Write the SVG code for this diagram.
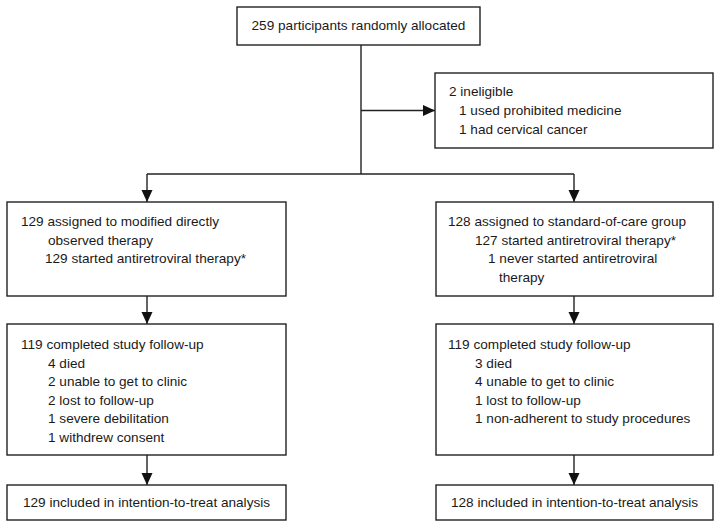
<svg xmlns="http://www.w3.org/2000/svg" width="721" height="528" viewBox="0 0 721 528">
<style>
.box{fill:#fff;stroke:#222;stroke-width:1.4}
.t{font-family:"Liberation Sans",Arial,sans-serif;font-size:13.6px;fill:#1a1a1a}
.c{text-anchor:middle}
.ln{fill:none;stroke:#222;stroke-width:1.4}
</style>
<defs>
<marker id="ah" markerUnits="userSpaceOnUse" markerWidth="12" markerHeight="12" refX="12" refY="6" orient="auto" viewBox="0 0 12 12">
<path d="M0,0.5 L12,6 L0,11.5 z" fill="#111"/>
</marker>
</defs>
<rect width="721" height="528" fill="#fff"/>
<g id="connectors">
<path class="ln" d="M361,45 V174"/>
<path class="ln" d="M361,110.5 H435" marker-end="url(#ah)"/>
<path class="ln" d="M147,174 H574"/>
<path class="ln" d="M147,174 V202" marker-end="url(#ah)"/>
<path class="ln" d="M574,174 V202" marker-end="url(#ah)"/>
<path class="ln" d="M147,296 V324" marker-end="url(#ah)"/>
<path class="ln" d="M574,296 V324" marker-end="url(#ah)"/>
<path class="ln" d="M147,455 V485" marker-end="url(#ah)"/>
<path class="ln" d="M574,455 V485" marker-end="url(#ah)"/>
</g>
<g id="n_allocated">
<rect class="box" x="237" y="7" width="243" height="38"/>
<text class="t c" x="358.5" y="30">259 participants randomly allocated</text>
</g>
<g id="n_ineligible">
<rect class="box" x="435" y="73" width="278" height="75"/>
<text class="t" x="449" y="96">2 ineligible</text>
<text class="t" x="459" y="115">1 used prohibited medicine</text>
<text class="t" x="459" y="134">1 had cervical cancer</text>
</g>
<g id="n_mdot">
<rect class="box" x="7" y="202" width="279" height="94"/>
<text class="t" x="21" y="226">129 assigned to modified directly</text>
<text class="t" x="48" y="244.5">observed therapy</text>
<text class="t" x="45" y="263">129 started antiretroviral therapy*</text>
</g>
<g id="n_soc">
<rect class="box" x="436" y="202" width="277" height="94"/>
<text class="t" x="448" y="226">128 assigned to standard-of-care group</text>
<text class="t" x="475" y="244.5">127 started antiretroviral therapy*</text>
<text class="t" x="488" y="263">1 never started antiretroviral</text>
<text class="t" x="499" y="281.5">therapy</text>
</g>
<g id="n_followup_left">
<rect class="box" x="7" y="324" width="279" height="131"/>
<text class="t" x="21" y="349">119 completed study follow-up</text>
<text class="t" x="48" y="367.5">4 died</text>
<text class="t" x="48" y="386">2 unable to get to clinic</text>
<text class="t" x="48" y="404.5">2 lost to follow-up</text>
<text class="t" x="48" y="423">1 severe debilitation</text>
<text class="t" x="48" y="441.5">1 withdrew consent</text>
</g>
<g id="n_followup_right">
<rect class="box" x="436" y="324" width="277" height="131"/>
<text class="t" x="448" y="349">119 completed study follow-up</text>
<text class="t" x="475" y="367.5">3 died</text>
<text class="t" x="475" y="386">4 unable to get to clinic</text>
<text class="t" x="475" y="404.5">1 lost to follow-up</text>
<text class="t" x="475" y="423">1 non-adherent to study procedures</text>
</g>
<g id="n_itt_left">
<rect class="box" x="7" y="485" width="279" height="35"/>
<text class="t c" x="146.5" y="507">129 included in intention-to-treat analysis</text>
</g>
<g id="n_itt_right">
<rect class="box" x="436" y="485" width="277" height="35"/>
<text class="t c" x="574.5" y="507">128 included in intention-to-treat analysis</text>
</g>
</svg>
